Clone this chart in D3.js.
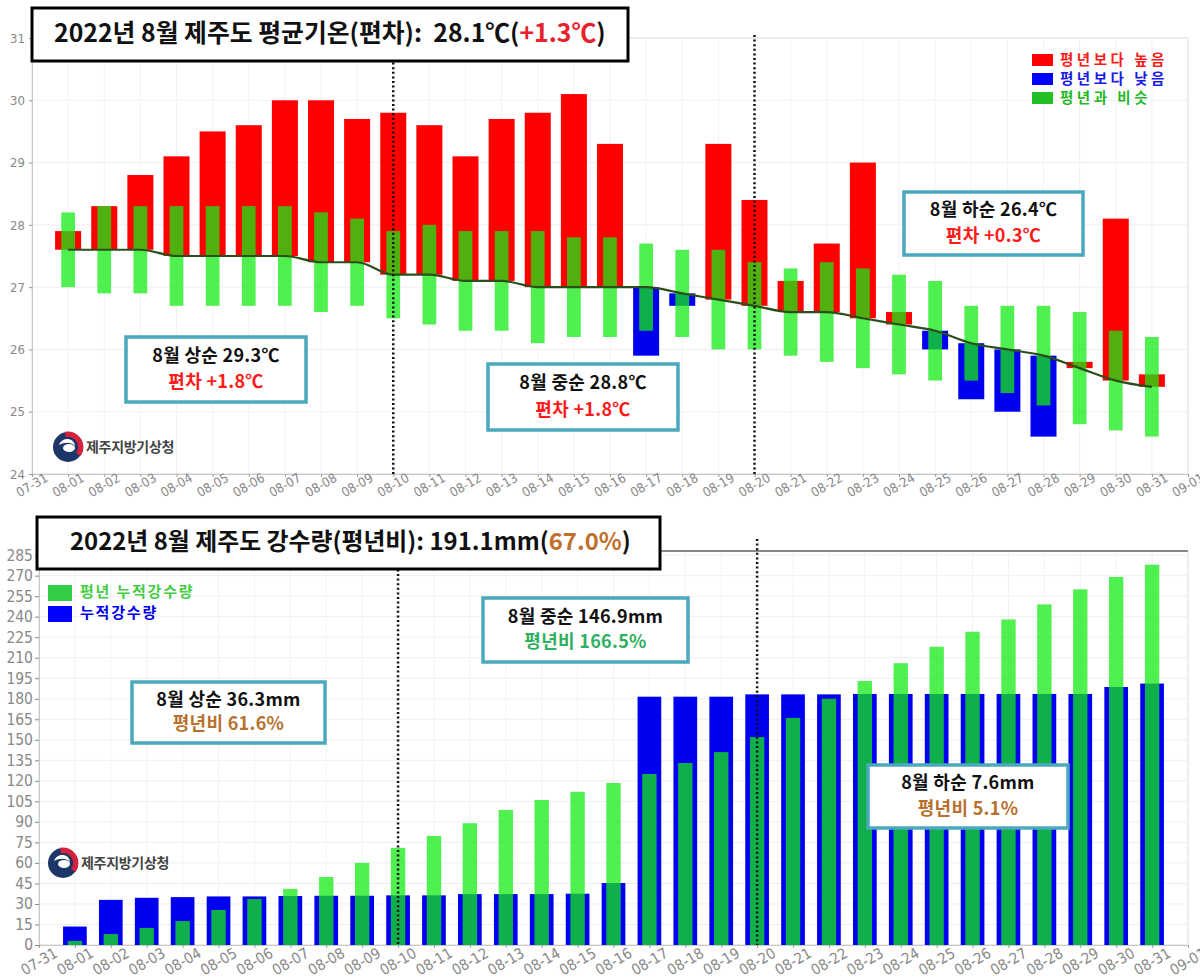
<!DOCTYPE html>
<html><head><meta charset="utf-8">
<script src="https://cdn.jsdelivr.net/npm/d3@7"></script>
<style>
body{margin:0;background:#fff;}
svg{display:block;font-family:"Noto Sans CJK KR","Noto Sans",sans-serif;}
.tick text{font-family:"Liberation Sans Narrow","DejaVu Sans Condensed","Liberation Sans",sans-serif;}
</style></head>
<body>
<script>
// ---------- DATA ----------
const tickLabels = ["07-31","08-01","08-02","08-03","08-04","08-05","08-06","08-07","08-08","08-09","08-10","08-11","08-12","08-13","08-14","08-15","08-16","08-17","08-18","08-19","08-20","08-21","08-22","08-23","08-24","08-25","08-26","08-27","08-28","08-29","08-30","08-31","09-01"];
const dates = tickLabels.slice(1,32);
const tempObs    = [27.9,28.3,28.8,29.1,29.5,29.6,30.0,30.0,29.7,29.8,29.6,29.1,29.7,29.8,30.1,29.3,25.9,26.7,29.3,28.4,27.1,27.7,29.0,26.6,26.0,25.2,25.0,24.6,25.8,28.1,25.6];
const tempNormal = [27.6,27.6,27.6,27.5,27.5,27.5,27.5,27.4,27.4,27.2,27.2,27.1,27.1,27.0,27.0,27.0,27.0,26.9,26.8,26.7,26.6,26.6,26.5,26.4,26.3,26.1,26.0,25.9,25.7,25.5,25.4];
const simLow     = [27.0,26.9,26.9,26.7,26.7,26.7,26.7,26.6,26.7,26.5,26.4,26.3,26.3,26.1,26.2,26.2,26.3,26.2,26.0,26.0,25.9,25.8,25.7,25.6,25.5,25.5,25.3,25.1,24.8,24.7,24.6];
const simHigh    = [28.2,28.3,28.3,28.3,28.3,28.3,28.3,28.2,28.1,27.9,28.0,27.9,27.9,27.9,27.8,27.8,27.7,27.6,27.6,27.4,27.3,27.4,27.3,27.2,27.1,26.7,26.7,26.7,26.6,26.3,26.2];
const tempTicks  = [24,25,26,27,28,29,30,31];

const rainObs    = [13.5,33,34.5,35,35.5,35.5,35.8,36,36,36.3,36.3,37.2,37.2,37.2,37.5,45.3,181.5,181.5,181.5,183.2,183.2,183.2,183.5,183.5,183.5,183.5,183.5,183.5,183.5,188.6,191.1];
const rainNormal = [3,8,12.5,17.5,25.6,33.6,41,49.7,60,71,79.7,89,98.7,106,112,118.4,125,133,141,152,166,180,193,206,218,229,238,249,260,269,278];
const rainTicks  = [0,15,30,45,60,75,90,105,120,135,150,165,180,195,210,225,240,255,270,285];

const tempLegend = [["평년보다 높음","#ff0000","#ff1a1a"],["평년보다 낮음","#0000ff","#1a1ae6"],["평년과 비슷","#22c022","#1fb81f"]];
const rainLegend = [["평년 누적강수량","#33cc44","#44cc44"],["누적강수량","#0000ff","#0000ee"]];

const tempNotes = [
  {l1:"8월 상순 29.3℃", l2:"편차 +1.8℃", c:"#ff1a1a", box:[126,337,180,65]},
  {l1:"8월 중순 28.8℃", l2:"편차 +1.8℃", c:"#ff1a1a", box:[488,364,190,66]},
  {l1:"8월 하순 26.4℃", l2:"편차 +0.3℃", c:"#ff1a1a", box:[904,192,179,63]}
];
const rainNotes = [
  {l1:"8월 상순 36.3mm", l2:"평년비 61.6%", c:"#b8702e", box:[132,682,193,61]},
  {l1:"8월 중순 146.9mm", l2:"평년비 166.5%", c:"#2fb060", box:[483,598,205,64]},
  {l1:"8월 하순 7.6mm", l2:"평년비 5.1%", c:"#b8702e", box:[868,765,200,63]}
];

// ---------- SETUP ----------
const svg = d3.select("body").append("svg").attr("width",1200).attr("height",978);
const GREEN = "#14eb14", GREEN_OP = 0.75;

function drawLogo(g, cx, cy){
  const lg = g.append("g");
  lg.append("circle").attr("cx",cx).attr("cy",cy).attr("r",15).attr("fill","#1c3668");
  const arc = d3.arc().innerRadius(10).outerRadius(15.5).startAngle(-0.2).endAngle(2.2);
  lg.append("path").attr("d",arc()).attr("transform",`translate(${cx},${cy})`).attr("fill","#d4213d");
  lg.append("path").attr("d",`M${cx-9},${cy-2} C${cx-6},${cy-10} ${cx+6},${cy-10} ${cx+7},${cy-1} C${cx+3},${cy-5} ${cx-3},${cy-5} ${cx-9},${cy-2}Z`).attr("fill","#fff");
  lg.append("ellipse").attr("cx",cx+1).attr("cy",cy+1).attr("rx",6).attr("ry",4).attr("fill","#fff");
  lg.append("text").attr("x",cx+18).attr("y",cy+1).attr("dominant-baseline","middle")
    .attr("font-size",14).attr("font-weight",700).attr("fill","#444").attr("letter-spacing",-0.3).text("제주지방기상청");
}

function drawNotes(g, notes){
  notes.forEach(n=>{
    const [x,y,w,h]=n.box;
    g.append("rect").attr("x",x).attr("y",y).attr("width",w).attr("height",h)
      .attr("fill","#fff").attr("stroke","#4ba9bd").attr("stroke-width",3.5);
    g.append("text").attr("x",x+w/2).attr("y",y+h*0.31).attr("text-anchor","middle").attr("dominant-baseline","middle")
      .attr("font-size",18).attr("font-weight",700).attr("letter-spacing",0.3).attr("fill","#111").text(n.l1);
    g.append("text").attr("x",x+w/2).attr("y",y+h*0.71).attr("text-anchor","middle").attr("dominant-baseline","middle")
      .attr("font-size",18).attr("font-weight",700).attr("letter-spacing",0.3).attr("fill",n.c).text(n.l2);
  });
}

function drawTitle(g, box, tx, ty, parts, targetW){
  const [x,y,w,h]=box;
  g.append("rect").attr("x",x).attr("y",y).attr("width",w).attr("height",h)
    .attr("fill","#fff").attr("stroke","#000").attr("stroke-width",3);
  const t = g.append("text").attr("x",tx).attr("y",ty).attr("dominant-baseline","middle")
    .attr("font-size",23).attr("font-weight",700).style("white-space","pre");
  parts.forEach(p=>t.append("tspan").attr("fill",p[1]).text(p[0]));
  const len = t.node().getComputedTextLength();
  if(len>0) t.attr("font-size", 23*targetW/len);
}

// ---------- TOP: TEMPERATURE ----------
{
  const g = svg.append("g");
  const x = d3.scaleLinear().domain([0,32]).range([32,1188]);
  const y = d3.scaleLinear().domain([24,31]).range([474,38]);
  const step = x(1)-x(0);
  g.append("rect").attr("x",32).attr("y",38).attr("width",1156).attr("height",436).attr("fill","#fff").attr("stroke","#cfcfcf");
  g.append("g").selectAll("line").data(tempTicks).join("line")
    .attr("x1",32).attr("x2",1188).attr("y1",d=>y(d)).attr("y2",d=>y(d)).attr("stroke","#efefef");
  g.append("g").selectAll("line").data(d3.range(0,33)).join("line")
    .attr("x1",d=>x(d)).attr("x2",d=>x(d)).attr("y1",38).attr("y2",474).attr("stroke","#f2f2f2");

  const ya = g.append("g").attr("transform","translate(32,0)")
    .call(d3.axisLeft(y).tickValues(tempTicks).tickFormat(d3.format("d")).tickSize(3).tickPadding(4));
  ya.select(".domain").attr("stroke","#c8c8c8");
  ya.selectAll(".tick line").attr("stroke","#999");
  ya.selectAll(".tick text").attr("fill","#888").attr("font-size",13);

  const xa = g.append("g").attr("transform","translate(0,474)")
    .call(d3.axisBottom(x).tickValues(d3.range(0,33)).tickFormat(i=>tickLabels[i]).tickSize(3));
  xa.select(".domain").attr("stroke","#c8c8c8");
  xa.selectAll(".tick line").attr("stroke","#999");
  xa.selectAll(".tick text").attr("fill","#888").attr("font-size",13)
    .attr("y",0).attr("dy",0).attr("text-anchor","middle").attr("dominant-baseline","middle")
    .attr("transform","translate(0,12) rotate(-30)");

  const bw = step*0.72, gw = step*0.38;
  g.append("g").selectAll("rect").data(dates).join("rect")
    .attr("x",(d,i)=>x(i+1)-bw/2).attr("width",bw)
    .attr("y",(d,i)=>y(Math.max(tempObs[i],tempNormal[i])))
    .attr("height",(d,i)=>Math.abs(y(tempObs[i])-y(tempNormal[i])))
    .attr("fill",(d,i)=>tempObs[i]>=tempNormal[i]?"#ff0000":"#0000f0");
  g.append("g").selectAll("rect").data(dates).join("rect")
    .attr("x",(d,i)=>x(i+1)-gw/2).attr("width",gw)
    .attr("y",(d,i)=>y(simHigh[i])).attr("height",(d,i)=>y(simLow[i])-y(simHigh[i]))
    .attr("fill",GREEN).attr("fill-opacity",GREEN_OP);
  const line = d3.line().x((d,i)=>x(i+1)).y(d=>y(d)).curve(d3.curveMonotoneX);
  g.append("path").datum(tempNormal).attr("d",line).attr("fill","none").attr("stroke","#2a4f1a").attr("stroke-width",2.2);

  [10,20].forEach(i=>g.append("line").attr("x1",x(i)).attr("x2",x(i)).attr("y1",35).attr("y2",474)
    .attr("stroke","#111").attr("stroke-width",2.5).attr("stroke-dasharray","2,2.6"));

  drawNotes(g, tempNotes);
  drawTitle(g,[32,8,596,53],54,35,[["2022년 8월 제주도 평균기온(편차):  28.1℃(","#111"],["+1.3℃","#e8222c"],[")","#111"]],552);

  const lg = g.append("g");
  tempLegend.forEach((d,i)=>{
    lg.append("rect").attr("x",1032).attr("y",54+i*19).attr("width",21).attr("height",12).attr("fill",d[1]);
    lg.append("text").attr("x",1060).attr("y",61+i*19).attr("dominant-baseline","middle")
      .attr("font-size",14.5).attr("font-weight",700).attr("letter-spacing",3.5).attr("fill",d[2]).text(d[0]);
  });
  drawLogo(g,68,447);
}

// ---------- BOTTOM: PRECIPITATION ----------
{
  const g = svg.append("g");
  const x = d3.scaleLinear().domain([0,32]).range([39,1188]);
  const y = d3.scaleLinear().domain([0,288]).range([945,551]);
  const step = x(1)-x(0);
  g.append("rect").attr("x",39).attr("y",551).attr("width",1149).attr("height",394).attr("fill","#fff").attr("stroke","#d4d4d4");
  g.append("g").selectAll("line").data(rainTicks).join("line")
    .attr("x1",39).attr("x2",1188).attr("y1",d=>y(d)).attr("y2",d=>y(d)).attr("stroke","#efefef");
  g.append("g").selectAll("line").data(d3.range(0,33)).join("line")
    .attr("x1",d=>x(d)).attr("x2",d=>x(d)).attr("y1",551).attr("y2",945).attr("stroke","#f2f2f2");
  g.append("line").attr("x1",39).attr("x2",1188).attr("y1",551).attr("y2",551).attr("stroke","#666").attr("stroke-width",1.5);

  const ya = g.append("g").attr("transform","translate(39,0)")
    .call(d3.axisLeft(y).tickValues(rainTicks).tickSize(4).tickPadding(2));
  ya.select(".domain").attr("stroke","#c8c8c8");
  ya.selectAll(".tick line").attr("stroke","#888");
  ya.selectAll(".tick text").attr("fill","#888").attr("font-size",15.5);

  const xa = g.append("g").attr("transform","translate(0,945)")
    .call(d3.axisBottom(x).tickValues(d3.range(0,33)).tickFormat(i=>tickLabels[i]).tickSize(3));
  xa.select(".domain").attr("stroke","#c8c8c8");
  xa.selectAll(".tick line").attr("stroke","#999");
  xa.selectAll(".tick text").attr("fill","#888").attr("font-size",15)
    .attr("y",0).attr("dy",0).attr("text-anchor","middle").attr("dominant-baseline","middle")
    .attr("transform","translate(0,17) rotate(-30)");

  const bw = step*0.66, gw = step*0.40;
  g.append("g").selectAll("rect").data(dates).join("rect")
    .attr("x",(d,i)=>x(i+1)-bw/2).attr("width",bw)
    .attr("y",(d,i)=>y(rainObs[i])).attr("height",(d,i)=>y(0)-y(rainObs[i]))
    .attr("fill","#0000f0");
  g.append("g").selectAll("rect").data(dates).join("rect")
    .attr("x",(d,i)=>x(i+1)-gw/2).attr("width",gw)
    .attr("y",(d,i)=>y(rainNormal[i])).attr("height",(d,i)=>y(0)-y(rainNormal[i]))
    .attr("fill",GREEN).attr("fill-opacity",GREEN_OP);

  [10,20].forEach(i=>g.append("line").attr("x1",x(i)).attr("x2",x(i)).attr("y1",i===10?551:539).attr("y2",945)
    .attr("stroke","#111").attr("stroke-width",2.5).attr("stroke-dasharray","2,2.6"));

  drawNotes(g, rainNotes);
  drawTitle(g,[37,517,623,52],70,544,[["2022년 8월 제주도 강수량(평년비): 191.1mm(","#111"],["67.0%","#c0702e"],[")","#111"]],561);

  const lg = g.append("g");
  rainLegend.forEach((d,i)=>{
    lg.append("rect").attr("x",48).attr("y",585+i*21).attr("width",24).attr("height",16).attr("fill",d[1]);
    lg.append("text").attr("x",80).attr("y",593+i*21).attr("dominant-baseline","middle")
      .attr("font-size",15).attr("font-weight",700).attr("letter-spacing",1.8).attr("fill",d[2]).text(d[0]);
  });
  drawLogo(g,63,863);
}
</script>
</body></html>
